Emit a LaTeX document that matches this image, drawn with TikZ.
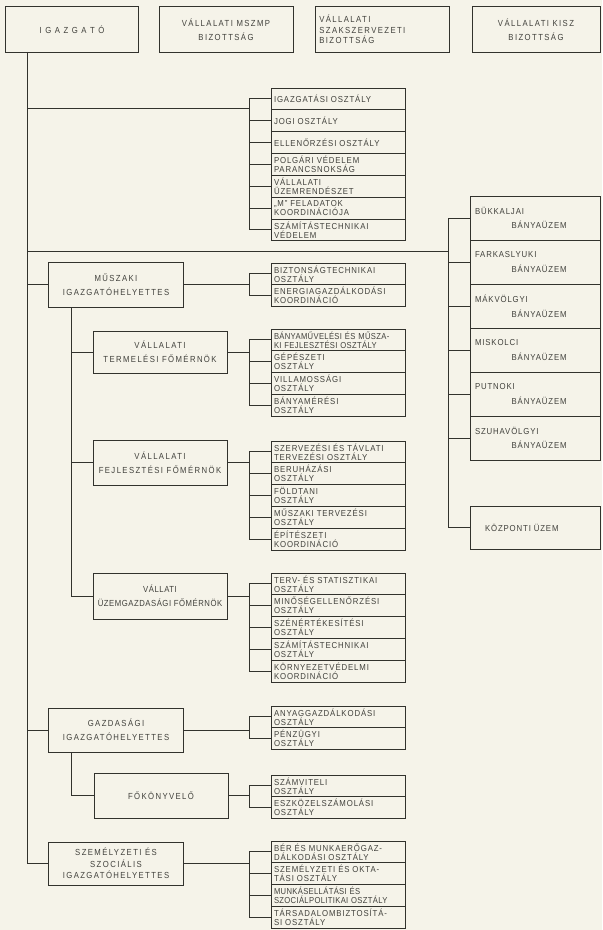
\documentclass[tikz,border=0pt]{standalone}
\usepackage{fontspec}
\usetikzlibrary{positioning}
\newfontfamily\stencil[FakeStretch=0.88,LetterSpace=16]{Liberation Sans}
\newfontfamily\stenciltight[FakeStretch=0.88,LetterSpace=6]{Liberation Sans}
\newfontfamily\stencilunit[FakeStretch=0.9,LetterSpace=10]{Liberation Sans}
\newfontfamily\stencilnarrow[FakeStretch=0.88,LetterSpace=4]{Liberation Sans}
\definecolor{paper}{RGB}{245,243,233}
\definecolor{ink}{RGB}{50,50,45}
\definecolor{inktext}{RGB}{65,65,60}

\begin{document}
\begin{tikzpicture}[x=0.03cm, y=-0.03cm,
    head/.style={draw=ink, line width=0.85pt, outer sep=0pt, inner sep=1pt, minimum width=4.02cm, minimum height=1.35cm, align=center, text=inktext, font=\stencil\fontsize{7.5}{12}\selectfont},
    unit/.style={draw=ink, line width=0.85pt, outer sep=0pt, anchor=north west, text width=3.84cm, inner xsep=0.09cm, inner ysep=0pt, minimum height=0.655cm, align=left, text=inktext, font=\stencilunit\fontsize{7.4}{7.7}\selectfont},
    tight/.style={font=\stencilnarrow\fontsize{7.4}{7.7}\selectfont},
    plant/.style={unit, text width=3.6cm, inner xsep=0.15cm, minimum height=1.32cm, font=\stencilunit\fontsize{7.4}{12.5}\selectfont},
    link/.style={draw=ink, line width=0.85pt}
]
\fill[paper] (0,0) rectangle (602,930);
\useasboundingbox (0,0) rectangle (602,930);

% top row
\node[head, minimum width=3.96cm] (igazgato) at (72,29.5) {I G A Z G A T Ó};
\node[head] (mszmp) at (226,29.5) {VÁLLALATI MSZMP\\BIZOTTSÁG};
\node[head, text width=3.79cm, inner xsep=0.1cm, align=left, font=\stencil\fontsize{7.5}{9}\selectfont] (szakszerv) at (382.5,29.5) {VÁLLALATI\\SZAKSZERVEZETI\\BIZOTTSÁG};
\node[head, minimum width=3.84cm] (kisz) at (536,29.5) {VÁLLALATI KISZ\\BIZOTTSÁG};

% staff departments
\node[unit] (igo) at (271,88) {IGAZGATÁSI OSZTÁLY};
\node[unit, below=0pt of igo] (jog) {JOGI OSZTÁLY};
\node[unit, below=0pt of jog] (ell) {ELLENŐRZÉSI OSZTÁLY};
\node[unit, below=0pt of ell] (polg) {POLGÁRI VÉDELEM\\PARANCSNOKSÁG};
\node[unit, below=0pt of polg] (uzr) {VÁLLALATI\\ÜZEMRENDÉSZET};
\node[unit, below=0pt of uzr] (mfel) {„M” FELADATOK\\KOORDINÁCIÓJA};
\node[unit, below=0pt of mfel] (szv) {SZÁMÍTÁSTECHNIKAI\\VÉDELEM};

% deputies and chief engineers
\node[head] (msz) at (116,284.5) {MŰSZAKI\\IGAZGATÓHELYETTES};
\node[head, minimum height=1.26cm] (term) at (160,352) {VÁLLALATI\\TERMELÉSI FŐMÉRNÖK};
\node[head] (fejl) at (160,462.5) {VÁLLALATI\\FEJLESZTÉSI FŐMÉRNÖK};
\node[head, minimum height=1.38cm, font=\stenciltight\fontsize{7.5}{12}\selectfont] (uzg) at (160,596) {VÁLLATI\\ÜZEMGAZDASÁGI FŐMÉRNÖK};
\node[head, minimum height=1.32cm] (gazd) at (116,730) {GAZDASÁGI\\IGAZGATÓHELYETTES};
\node[head] (fokony) at (161,795.5) {FŐKÖNYVELŐ};
\node[head, minimum height=1.29cm, font=\stencil\fontsize{7.5}{10}\selectfont] (szem) at (116,863.5) {SZEMÉLYZETI ÉS\\SZOCIÁLIS\\IGAZGATÓHELYETTES};

% departments
\node[unit] (bizt) at (271,263) {BIZTONSÁGTECHNIKAI\\OSZTÁLY};
\node[unit, below=0pt of bizt] (energ) {ENERGIAGAZDÁLKODÁSI\\KOORDINÁCIÓ};

\node[unit, tight] (bany) at (271,329) {BÁNYAMŰVELÉSI ÉS MŰSZA-\\KI FEJLESZTÉSI OSZTÁLY};
\node[unit, below=0pt of bany] (gep) {GÉPÉSZETI\\OSZTÁLY};
\node[unit, below=0pt of gep] (vill) {VILLAMOSSÁGI\\OSZTÁLY};
\node[unit, below=0pt of vill] (bmer) {BÁNYAMÉRÉSI\\OSZTÁLY};

\node[unit] (szerv) at (271,441) {SZERVEZÉSI ÉS TÁVLATI\\TERVEZÉSI OSZTÁLY};
\node[unit, below=0pt of szerv] (beruh) {BERUHÁZÁSI\\OSZTÁLY};
\node[unit, below=0pt of beruh] (foldt) {FÖLDTANI\\OSZTÁLY};
\node[unit, below=0pt of foldt] (mter) {MŰSZAKI TERVEZÉSI\\OSZTÁLY};
\node[unit, below=0pt of mter] (epit) {ÉPÍTÉSZETI\\KOORDINÁCIÓ};

\node[unit] (terv) at (271,573) {TERV- ÉS STATISZTIKAI\\OSZTÁLY};
\node[unit, below=0pt of terv] (minos) {MINŐSÉGELLENŐRZÉSI\\OSZTÁLY};
\node[unit, below=0pt of minos] (szen) {SZÉNÉRTÉKESÍTÉSI\\OSZTÁLY};
\node[unit, below=0pt of szen] (szam) {SZÁMÍTÁSTECHNIKAI\\OSZTÁLY};
\node[unit, below=0pt of szam] (korny) {KÖRNYEZETVÉDELMI\\KOORDINÁCIÓ};

\node[unit] (anyag) at (271,706) {ANYAGGAZDÁLKODÁSI\\OSZTÁLY};
\node[unit, below=0pt of anyag] (penz) {PÉNZÜGYI\\OSZTÁLY};

\node[unit] (szamv) at (271,775) {SZÁMVITELI\\OSZTÁLY};
\node[unit, below=0pt of szamv] (eszk) {ESZKÖZELSZÁMOLÁSI\\OSZTÁLY};

\node[unit] (ber) at (271,841) {BÉR ÉS MUNKAERŐGAZ-\\DÁLKODÁSI OSZTÁLY};
\node[unit, below=0pt of ber] (szemo) {SZEMÉLYZETI ÉS OKTA-\\TÁSI OSZTÁLY};
\node[unit, tight, below=0pt of szemo] (munk) {MUNKÁSELLÁTÁSI ÉS\\SZOCIÁLPOLITIKAI OSZTÁLY};
\node[unit, below=0pt of munk] (tars) {TÁRSADALOMBIZTOSÍTÁ-\\SI OSZTÁLY};

% plants
\node[plant] (buk) at (470,196) {BÜKKALJAI\\\hspace*{1.1cm}BÁNYAÜZEM};
\node[plant, below=0pt of buk] (fark) {FARKASLYUKI\\\hspace*{1.1cm}BÁNYAÜZEM};
\node[plant, below=0pt of fark] (mak) {MÁKVÖLGYI\\\hspace*{1.1cm}BÁNYAÜZEM};
\node[plant, below=0pt of mak] (misk) {MISKOLCI\\\hspace*{1.1cm}BÁNYAÜZEM};
\node[plant, below=0pt of misk] (putn) {PUTNOKI\\\hspace*{1.1cm}BÁNYAÜZEM};
\node[plant, below=0pt of putn] (szuh) {SZUHAVÖLGYI\\\hspace*{1.1cm}BÁNYAÜZEM};
\node[plant, minimum height=1.29cm] (kozp) at (470,506) {\hspace*{0.3cm}KÖZPONTI ÜZEM};

% connectors
\coordinate (tr) at (27,0);
\coordinate (sub) at (71,0);
\coordinate (fk) at (249,0);
\coordinate (fr) at (448,0);
\coordinate (ja) at (249,108);
\coordinate (jb) at (448,251);

\draw[link] (tr |- igazgato.south) -- (tr |- szem.west);
\draw[link] (tr |- ja) -- (ja);
\draw[link] (tr |- jb) -- (jb);
\foreach \n in {msz,gazd,szem} \draw[link] (tr |- \n.west) -- (\n.west);

\draw[link] (sub |- msz.south) -- (sub |- uzg.west);
\foreach \n in {term,fejl,uzg} \draw[link] (sub |- \n.west) -- (\n.west);
\draw[link] (sub |- gazd.south) -- (sub |- fokony.west) -- (fokony.west);

\foreach \n in {msz,term,fejl,uzg,gazd,fokony,szem} \draw[link] (\n.east) -- (fk |- \n.east);

\draw[link] (fk |- igo.west) -- (fk |- szv.west);
\draw[link] (fk |- bizt.west) -- (fk |- energ.west);
\draw[link] (fk |- bany.west) -- (fk |- bmer.west);
\draw[link] (fk |- szerv.west) -- (fk |- epit.west);
\draw[link] (fk |- terv.west) -- (fk |- korny.west);
\draw[link] (fk |- anyag.west) -- (fk |- penz.west);
\draw[link] (fk |- szamv.west) -- (fk |- eszk.west);
\draw[link] (fk |- ber.west) -- (fk |- tars.west);
\foreach \n in {igo,jog,ell,polg,uzr,mfel,szv,bizt,energ,bany,gep,vill,bmer,szerv,beruh,foldt,mter,epit,terv,minos,szen,szam,korny,anyag,penz,szamv,eszk,ber,szemo,munk,tars}
    \draw[link] (fk |- \n.west) -- (\n.west);

\draw[link] (fr |- buk.west) -- (fr |- kozp.west);
\foreach \n in {buk,fark,mak,misk,putn,szuh,kozp} \draw[link] (fr |- \n.west) -- (\n.west);
\end{tikzpicture}
\end{document}
